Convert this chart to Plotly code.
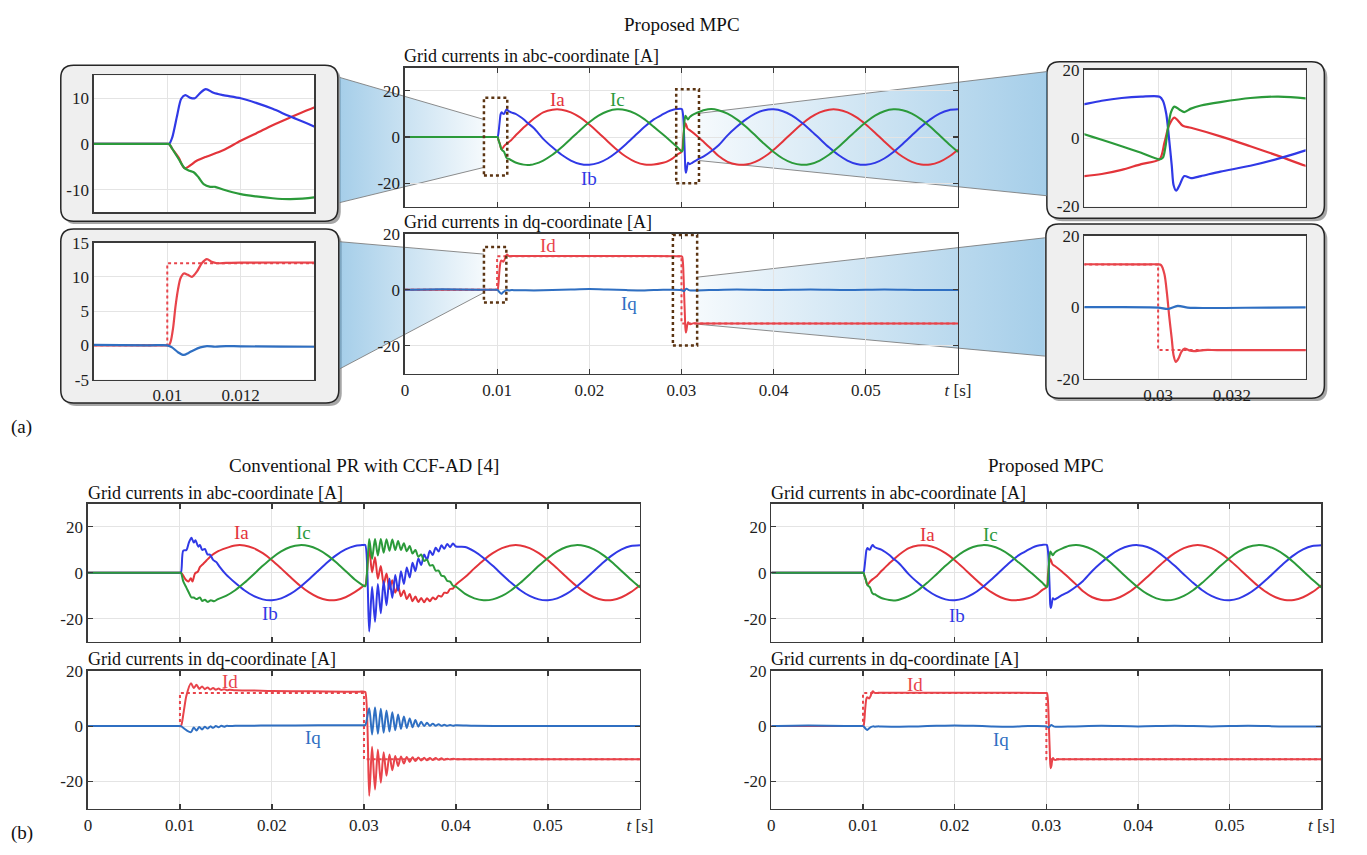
import plotly.graph_objects as go

W, H = 1367, 855
FONT = "Liberation Serif"

# ---------------- data ----------------
# shared 1 ms samples of the steady sinusoids
t_mid = [0.015, 0.016, 0.017, 0.018, 0.019, 0.020, 0.021, 0.022, 0.023, 0.024, 0.025, 0.026, 0.027]
ia_mid = [10.69, 11.85, 11.85, 10.69, 8.49, 5.45, 1.88, -1.88, -5.45, -8.49, -10.69, -11.85, -11.85]
ib_mid = [-0.75, -4.42, -7.65, -10.13, -11.62, -11.98, -11.16, -9.25, -6.43, -2.98, 0.75, 4.42, 7.65]
ic_mid = [-10.13, -7.65, -4.42, -0.75, 2.98, 6.43, 9.25, 11.16, 11.98, 11.62, 10.13, 7.65, 4.42]

t_tail = [0.035, 0.036, 0.037, 0.038, 0.039, 0.040, 0.041, 0.042, 0.043, 0.044, 0.045, 0.046, 0.047,
          0.048, 0.049, 0.050, 0.051, 0.052, 0.053, 0.054, 0.055, 0.056, 0.057, 0.058, 0.059, 0.060]
ia_tail = [-10.69, -11.85, -11.85, -10.69, -8.49, -5.45, -1.88, 1.88, 5.45, 8.49, 10.69, 11.85, 11.85,
           10.69, 8.49, 5.45, 1.88, -1.88, -5.45, -8.49, -10.69, -11.85, -11.85, -10.69, -8.49, -5.45]
ib_tail = [0.75, 4.42, 7.65, 10.13, 11.62, 11.98, 11.16, 9.25, 6.43, 2.98, -0.75, -4.42, -7.65,
           -10.13, -11.62, -11.98, -11.16, -9.25, -6.43, -2.98, 0.75, 4.42, 7.65, 10.13, 11.62, 11.98]
ic_tail = [10.13, 7.65, 4.42, 0.75, -2.98, -6.43, -9.25, -11.16, -11.98, -11.62, -10.13, -7.65, -4.42,
           -0.75, 2.98, 6.43, 9.25, 11.16, 11.98, 11.62, 10.13, 7.65, 4.42, 0.75, -2.98, -6.43]

# Proposed MPC, abc
mpc_ia_t = [0, 0.005, 0.0095, 0.01, 0.01005, 0.01013, 0.01031, 0.01047, 0.0108, 0.01106, 0.01152, 0.012, 0.01242,
            0.01287, 0.01332, 0.014] + t_mid + [0.028, 0.02847, 0.02901, 0.02954, 0.03004, 0.03017, 0.0303,
            0.03044, 0.03067, 0.03089, 0.03169, 0.0325, 0.03326, 0.034] + t_tail
mpc_ia_v = [0, 0, 0, 0, 0, -1.0, -3.0, -5.3, -3.7, -2.8, -1.4, 0.7, 2.3, 4.1, 5.7, 8.0] + ia_mid + \
           [-11.1, -10.5, -9.3, -7.6, -6.2, -1.4, 3.8, 6.0, 3.6, 3.0, 0.5, -2.4, -5.2, -8.1] + ia_tail

mpc_ib_t = [0, 0.005, 0.0095, 0.01, 0.01005, 0.01013, 0.01027, 0.01038, 0.01049, 0.01063, 0.01075, 0.0109, 0.01105,
            0.01126, 0.01152, 0.012, 0.01242, 0.01287, 0.01332, 0.014] + t_mid + [0.028, 0.02847, 0.02901,
            0.02954, 0.03004, 0.03013, 0.03022, 0.03029, 0.03037, 0.03042, 0.03049, 0.03058, 0.03071, 0.03089,
            0.03116, 0.03169, 0.0325, 0.03326, 0.034] + t_tail
mpc_ib_v = [0, 0, 0, 0, 0, 1.3, 6.3, 9.9, 10.7, 10.1, 10.0, 11.2, 12.0, 11.2, 10.7, 10.0, 9.0, 7.7, 6.1, 3.8] + \
           ib_mid + [9.9, 10.9, 11.7, 12.1, 12.1, 10.9, 7.1, 0.5, -8.1, -13.8, -15.4, -13.8, -11.1, -11.7, -11.1,
                     -9.8, -8.1, -6.0, -3.6] + ib_tail

mpc_ic_t = [0, 0.005, 0.0095, 0.01, 0.01005, 0.01013, 0.01031, 0.01047, 0.01058, 0.01072, 0.01085, 0.01099, 0.01117,
            0.0113, 0.01152, 0.012, 0.01242, 0.01287, 0.01332, 0.01368, 0.014] + t_mid + [0.028, 0.02847,
            0.02901, 0.02954, 0.03004, 0.03013, 0.0302, 0.03026, 0.03035, 0.03044, 0.03058, 0.03071, 0.03089,
            0.03116, 0.03169, 0.0325, 0.03326, 0.034] + t_tail
mpc_ic_v = [0, 0, 0, 0, 0, -1.0, -3.3, -5.3, -5.8, -6.2, -7.3, -8.8, -9.4, -9.4, -10.0, -11.0, -11.5, -11.9, -12.1,
            -12.0, -11.7] + ic_mid + [1.1, -0.5, -2.4, -4.3, -6.2, -5.7, -2.4, 2.4, 7.6, 9.2, 8.3, 7.6, 8.6, 9.5,
            10.5, 11.7, 12.1, 11.6] + ic_tail

# Proposed MPC, dq
mpc_id_t = [0, 0.005, 0.0095, 0.01, 0.01004, 0.01009, 0.01016, 0.01022, 0.01029, 0.01036, 0.01045, 0.01056, 0.01067,
            0.01081, 0.01094, 0.01108, 0.01121, 0.01135, 0.0116, 0.012, 0.014, 0.02, 0.025, 0.0295, 0.03, 0.03008,
            0.03017, 0.03024, 0.0303, 0.03037, 0.03042, 0.03048, 0.03055, 0.03063, 0.03072, 0.03084, 0.03097,
            0.03124, 0.0316, 0.034, 0.04, 0.05, 0.06]
mpc_id_v = [0, 0, 0, 0, 0, 0.5, 2.6, 5.5, 8.1, 9.8, 10.5, 10.3, 10.0, 10.8, 12.0, 12.6, 12.2, 12.0, 12.05, 12.1,
            12.1, 12.1, 12.1, 12.0, 12.0, 11.8, 9.3, 3.8, -2.5, -8.9, -13.5, -15.3, -14.4, -12.5, -11.6, -12.1,
            -12.3, -12.0, -12.0, -12.0, -12.0, -12.0, -12.0]
mpc_iq_t = [0, 0.004, 0.0095, 0.01, 0.01013, 0.01029, 0.01045, 0.01058, 0.01072, 0.0109, 0.01108, 0.0113, 0.0116,
            0.012, 0.014, 0.016, 0.018, 0.02, 0.022, 0.024, 0.026, 0.028, 0.03, 0.03026, 0.03053, 0.0308,
            0.031, 0.033, 0.036, 0.04, 0.044, 0.048, 0.052, 0.056, 0.06]
mpc_iq_v = [0.0, 0.2, 0.0, 0.0, -0.3, -1.0, -1.4, -1.1, -0.7, -0.3, -0.1, -0.2, -0.1, -0.15, -0.2, -0.1, 0.1,
            0.25, 0.1, -0.1, -0.2, 0.0, -0.1, -0.5, 0.4, -0.1, -0.2, -0.1, 0.1, -0.1, 0.1, -0.1, 0.1, -0.1, -0.1]

ref_t = [0, 0.01, 0.01, 0.03, 0.03, 0.06]
ref_v = [0, 0, 12, 12, -12, -12]

# Conventional PR with CCF-AD, ringing after the reversal
t_osc = [0.03057, 0.03088, 0.03120, 0.03151, 0.03183, 0.03214, 0.03245, 0.03277, 0.03308, 0.03340, 0.03371,
         0.03402, 0.03434, 0.03465, 0.03497, 0.03528, 0.03559, 0.03591, 0.03622, 0.03654, 0.03685, 0.03716,
         0.03748, 0.03779, 0.03811, 0.03842, 0.03873, 0.03905, 0.03936, 0.03968, 0.03999]
ia_osc = [10.9, 0.1, 6.7, -2.6, 2.9, -5.0, -0.4, -7.0, -3.3, -8.7, -5.7, -10.3, -7.7, -11.5, -9.3, -12.4,
          -10.4, -12.8, -11.0, -12.9, -11.1, -12.4, -10.8, -11.6, -10.0, -10.4, -8.7, -8.8, -7.1, -6.9, -5.2]
ib_osc = [-25.6, -6.1, -21.4, -4.9, -17.6, -3.7, -14.2, -2.5, -11.0, -1.0, -7.9, 0.6, -4.9, 2.3, -2.1, 4.3,
          0.7, 6.2, 3.3, 7.9, 5.6, 9.5, 7.7, 10.9, 9.2, 11.9, 10.4, 12.5, 11.1, 12.7, 11.4]
ic_osc = [14.7, 6.0, 14.7, 7.5, 14.7, 8.7, 14.6, 9.5, 14.4, 9.9, 13.8, 9.9, 12.8, 9.3, 11.6, 8.3, 9.9, 6.9,
          7.9, 5.1, 5.7, 3.1, 3.3, 0.9, 0.9, -1.3, -1.6, -3.6, -3.9, -5.7, -6.1]
id_osc = [-25.3, -7.5, -23.0, -8.5, -20.5, -9.5, -18.0, -10.3, -16.0, -10.8, -14.5, -11.0, -13.6, -11.2,
          -13.0, -11.3, -12.7, -11.4, -12.5, -11.5, -12.4, -11.6, -12.3, -11.6, -12.2, -11.7, -12.2, -11.8,
          -12.1, -11.8, -12.0]
iq_osc = [6.5, -3.0, 6.8, -2.8, 6.3, -2.4, 5.7, -2.0, 5.0, -1.5, 4.2, -1.0, 3.5, -0.7, 2.8, -0.4, 2.2, -0.2,
          1.6, 0.0, 1.2, 0.1, 0.9, 0.1, 0.7, 0.1, 0.5, 0.1, 0.4, 0.1, 0.3]

pr_ia_t = [0, 0.005, 0.0095, 0.0099, 0.0101, 0.01032, 0.01064, 0.01093, 0.01118, 0.01136, 0.01164, 0.01193,
           0.01218, 0.01254, 0.0129, 0.01343, 0.01397] + t_mid + [0.028, 0.029, 0.0298, 0.030, 0.03015] + \
          t_osc + t_tail[6:]
pr_ia_v = [0, 0, 0, 0, 0, -1.0, -3.1, -3.8, -2.4, -3.8, -0.3, 0.4, 2.5, 3.9, 5.4, 7.5, 9.0] + ia_mid + \
          [-10.69, -8.49, -6.2, -5.6, -5.5] + ia_osc + ia_tail[6:]
pr_ib_t = [0, 0.005, 0.0095, 0.0099, 0.0101, 0.01036, 0.01071, 0.01097, 0.01125, 0.0115, 0.01168, 0.012,
           0.01217, 0.01242, 0.01271, 0.013, 0.01325, 0.0136, 0.01396, 0.01432] + t_mid + \
          [0.028, 0.029, 0.0298, 0.030, 0.03015] + t_osc + t_tail[6:]
pr_ib_v = [0, 0, 0, 0, 0, 9.6, 9.9, 13.1, 15.2, 13.1, 14.1, 11.3, 12.1, 9.9, 10.3, 7.9, 7.9, 5.6, 4.6, 2.5] + \
          ib_mid + [10.13, 11.62, 12.0, 12.1, 12.0] + ib_osc + ib_tail[6:]
pr_ic_t = [0, 0.005, 0.0095, 0.0099, 0.0101, 0.01036, 0.01071, 0.01097, 0.01125, 0.0115, 0.01179, 0.01217,
           0.01242, 0.01271, 0.013, 0.01336, 0.01371, 0.01414] + t_mid + [0.028, 0.029, 0.0298, 0.030,
           0.03015] + t_osc + t_tail[6:]
pr_ic_v = [0, 0, 0, 0, 0, -3.8, -6.6, -8.7, -10.8, -10.8, -11.5, -10.8, -12.3, -11.8, -12.7, -12.0, -12.4,
           -11.5] + ic_mid + [0.75, -2.98, -5.3, -5.8, -5.9] + ic_osc + ic_tail[6:]

pr_id_t = [0, 0.005, 0.0095, 0.0099, 0.0101, 0.0104, 0.0107, 0.0112, 0.0115, 0.0118, 0.0121, 0.0124, 0.0127,
           0.0130, 0.0133, 0.0136, 0.0139, 0.0142, 0.0145, 0.0148, 0.0151, 0.0154, 0.016, 0.018, 0.020, 0.024,
           0.028, 0.0295, 0.030, 0.03015] + t_osc + [0.042, 0.046, 0.050, 0.055, 0.060]
pr_id_v = [0, 0, 0, 0, 0, 5.0, 11.0, 15.5, 13.8, 15.0, 13.5, 14.4, 13.4, 14.0, 13.3, 13.8, 13.2, 13.6, 13.1,
           13.4, 13.0, 13.2, 13.0, 12.9, 12.7, 12.6, 12.5, 12.5, 12.5, 12.3] + id_osc + \
          [-12.0, -12.0, -12.0, -12.0, -12.0]
pr_iq_t = [0, 0.005, 0.0095, 0.0099, 0.0101, 0.0107, 0.0112, 0.0115, 0.0118, 0.0121, 0.0124, 0.0127, 0.0130,
           0.0133, 0.0136, 0.0139, 0.0142, 0.0145, 0.0148, 0.0151, 0.0154, 0.016, 0.020, 0.025, 0.0295, 0.030,
           0.03015] + t_osc + [0.042, 0.046, 0.050, 0.055, 0.060]
pr_iq_v = [0, 0, 0, 0, 0, -1.5, -2.2, -0.5, -1.6, -0.3, -1.2, -0.2, -0.9, -0.1, -0.6, 0.0, -0.4, 0.1, -0.2,
           0.1, 0.0, 0.1, 0.2, 0.3, 0.3, 0.3, 0.4] + iq_osc + [0.1, 0.0, 0.0, 0.0, 0.0]

main_xticks = [0, 0.01, 0.02, 0.03, 0.04, 0.05, 0.06]
main_xlabels = ["0", "0.01", "0.02", "0.03", "0.04", "0.05", "<i>t</i> [s]"]

# ---------------- styling ----------------
C_A, C_B, C_C = "#e3343a", "#3039e6", "#2b9a3a"
C_D, C_Q = "#e8444b", "#2f6fc2"
AXC = "#3a3a3a"
GRID = "#e4e4e4"

fig = go.Figure()


def fx(x):
    return x / W


def fy(y):
    return 1 - y / H


# panel geometry in pixels: (left, right, top, bottom)
panels = {
    2: dict(px=(406, 966, 60, 202), xr=[0, 0.06], yr=[-30, 30], yt=[-20, 0, 20], xt=main_xticks, xl=None, tk=True),
    3: dict(px=(406, 966, 230, 373), xr=[0, 0.06], yr=[-30, 20], yt=[-20, 0, 20], xt=main_xticks, xl=main_xlabels, tk=True),
    4: dict(px=(91, 314, 68, 208), xr=[0.008, 0.014], yr=[-15, 15], yt=[-10, 0, 10], xt=[0.01, 0.012], xl=None, tk=False),
    5: dict(px=(91, 314, 239, 379), xr=[0.008, 0.014], yr=[-5, 15], yt=[-5, 0, 5, 10, 15], xt=[0.01, 0.012], xl=["0.01", "0.012"], tk=False),
    6: dict(px=(1094, 1318, 62, 202), xr=[0.028, 0.034], yr=[-20, 20], yt=[-20, 0, 20], xt=[0.03, 0.032], xl=None, tk=False),
    7: dict(px=(1094, 1318, 232, 378), xr=[0.028, 0.034], yr=[-20, 20], yt=[-20, 0, 20], xt=[0.03, 0.032], xl=["0.03", "0.032"], tk=False),
    8: dict(px=(85, 644, 506, 647), xr=[0, 0.06], yr=[-30, 30], yt=[-20, 0, 20], xt=main_xticks, xl=None, tk=True),
    9: dict(px=(85, 644, 677, 818), xr=[0, 0.06], yr=[-30, 20], yt=[-20, 0, 20], xt=main_xticks, xl=main_xlabels, tk=True),
    10: dict(px=(777, 1334, 506, 647), xr=[0, 0.06], yr=[-30, 30], yt=[-20, 0, 20], xt=main_xticks, xl=None, tk=True),
    11: dict(px=(777, 1334, 677, 818), xr=[0, 0.06], yr=[-30, 20], yt=[-20, 0, 20], xt=main_xticks, xl=main_xlabels, tk=True),
}

layout_axes = {}
# overlay axis in pixel units (for the zoom "beams")
layout_axes["xaxis"] = dict(domain=[0, 1], range=[0, W], visible=False, fixedrange=True)
layout_axes["yaxis"] = dict(domain=[0, 1], range=[H, 0], visible=False, fixedrange=True)

tickfont = dict(family=FONT, size=17, color="#1e1e1e")
for n, p in panels.items():
    l, r, t, b = p["px"]
    common = dict(showgrid=True, gridcolor=GRID, gridwidth=1, zeroline=False, showline=True,
                  linecolor=AXC, linewidth=1.5, mirror="ticks" if p["tk"] else True,
                  ticks="inside" if p["tk"] else "", ticklen=5, tickwidth=1.2, tickcolor=AXC,
                  tickfont=tickfont, fixedrange=True)
    layout_axes[f"xaxis{n}"] = dict(domain=[fx(l), fx(r)], range=p["xr"], anchor=f"y{n}",
                                    tickvals=p["xt"], ticktext=p["xl"] if p["xl"] else None,
                                    showticklabels=p["xl"] is not None, **common)
    layout_axes[f"yaxis{n}"] = dict(domain=[fy(b), fy(t)], range=p["yr"], anchor=f"x{n}",
                                    tickvals=p["yt"], ticktext=[str(v) for v in p["yt"]], **common)

# ---- beams (zoom projections) on the overlay ----
beams = [
    (([340, 486, 486, 340], [70, 113, 162, 198]), "left"),
    (([703.7, 1056, 1056, 703.7], [106.7, 64, 191, 155]), "right"),
    (([340, 486, 486, 340], [238, 250.7, 290, 368]), "left"),
    (([701.7, 1054, 1054, 701.7], [274.3, 234, 355, 322.3]), "right"),
]
strong = "rgba(92,166,215,0.55)"
weak = "rgba(92,166,215,0.06)"
for (bx, by), side in beams:
    cs = [[0, strong], [1, weak]] if side == "left" else [[0, weak], [1, strong]]
    fig.add_trace(go.Scatter(x=bx + [bx[0]], y=by + [by[0]], mode="lines", fill="toself",
                             fillgradient=dict(type="horizontal", colorscale=cs),
                             line=dict(width=0), hoverinfo="skip", xaxis="x", yaxis="y"))
    for i0, i1 in ((0, 1), (3, 2)):
        fig.add_trace(go.Scatter(x=[bx[i0], bx[i1]], y=[by[i0], by[i1]], mode="lines",
                                 line=dict(color="rgba(120,120,120,0.85)", width=1),
                                 hoverinfo="skip", xaxis="x", yaxis="y"))


def line(t, v, color, n, width=2.0, dash=None):
    fig.add_trace(go.Scatter(x=t, y=v, mode="lines",
                             line=dict(color=color, width=width, dash=dash, shape="spline", smoothing=0.8),
                             hoverinfo="skip", xaxis=f"x{n}", yaxis=f"y{n}"))


for n in (2, 4, 6, 10):
    w = 2.2 if n in (4, 6) else 2.0
    line(mpc_ia_t, mpc_ia_v, C_A, n, w)
    line(mpc_ib_t, mpc_ib_v, C_B, n, w)
    line(mpc_ic_t, mpc_ic_v, C_C, n, w)
for n in (3, 5, 7, 11):
    w = 2.2 if n in (5, 7) else 2.0
    fig.add_trace(go.Scatter(x=ref_t, y=ref_v, mode="lines", line=dict(color=C_D, width=2, dash="dot"),
                             hoverinfo="skip", xaxis=f"x{n}", yaxis=f"y{n}"))
    line(mpc_id_t, mpc_id_v, C_D, n, w)
    line(mpc_iq_t, mpc_iq_v, C_Q, n, w)

line(pr_ia_t, pr_ia_v, C_A, 8)
line(pr_ib_t, pr_ib_v, C_B, 8)
line(pr_ic_t, pr_ic_v, C_C, 8)
fig.add_trace(go.Scatter(x=ref_t, y=ref_v, mode="lines", line=dict(color=C_D, width=2, dash="dot"),
                         hoverinfo="skip", xaxis="x9", yaxis="y9"))
line(pr_id_t, pr_id_v, C_D, 9)
line(pr_iq_t, pr_iq_v, C_Q, 9)

# ---------------- shapes ----------------
shapes = []


def rrect_path(x0, y0, x1, y1, r):
    pts = [("M", [(x0 + r, y0)]), ("L", [(x1 - r, y0)]), ("Q", [(x1, y0), (x1, y0 + r)]),
           ("L", [(x1, y1 - r)]), ("Q", [(x1, y1), (x1 - r, y1)]), ("L", [(x0 + r, y1)]),
           ("Q", [(x0, y1), (x0, y1 - r)]), ("L", [(x0, y0 + r)]), ("Q", [(x0, y0), (x0 + r, y0)])]
    s = ""
    for cmd, ps in pts:
        s += cmd + " " + " ".join(f"{fx(px):.5f},{fy(py):.5f}" for px, py in ps) + " "
    return s + "Z"


inset_boxes = [(57.5, 57.5, 338, 217), (57.5, 225, 339, 403), (1056, 54, 1337, 214), (1055, 220, 1337, 398)]
for x0, y0, x1, y1 in inset_boxes:
    shapes.append(dict(type="path", path=rrect_path(x0 + 3, y0 + 3, x1 + 3, y1 + 3, 13), xref="paper",
                       yref="paper", fillcolor="#a6a6a6", line=dict(width=0), layer="below"))
    shapes.append(dict(type="path", path=rrect_path(x0, y0, x1, y1, 13), xref="paper", yref="paper",
                       fillcolor="#efefef", line=dict(color="#262626", width=1.5), layer="below"))
for n, p in panels.items():
    l, r, t, b = p["px"]
    shapes.append(dict(type="rect", xref="paper", yref="paper", x0=fx(l), x1=fx(r), y0=fy(b), y1=fy(t),
                       fillcolor="white", line=dict(width=0), layer="below"))

zoom_frames = [(2, 0.00857, 0.0111, -16.6, 17.0), (2, 0.02943, 0.0319, -19.9, 20.7),
               (3, 0.00857, 0.0110, -4.5, 15.3), (3, 0.02907, 0.0317, -19.9, 19.6)]
for n, a0, a1, b0, b1 in zoom_frames:
    shapes.append(dict(type="rect", xref=f"x{n}", yref=f"y{n}", x0=a0, x1=a1, y0=b0, y1=b1,
                       line=dict(color="#5b3412", width=2.5, dash="dot"), fillcolor="rgba(0,0,0,0)",
                       layer="above"))

# ---------------- annotations ----------------
ann = []


def ptext(text, x, y, anchor="left", size=18, color="#111"):
    ann.append(dict(text=text, x=fx(x), y=fy(y), xref="paper", yref="paper", xanchor=anchor,
                    yanchor="middle", showarrow=False, font=dict(family=FONT, size=size, color=color)))


ptext("Proposed MPC", 687, 16, "center", 19)
ptext("Grid currents in abc-coordinate [A]", 403, 48)
ptext("Grid currents in dq-coordinate [A]", 403, 218)
ptext("(a)", 5, 428, size=19)
ptext("Conventional PR with CCF-AD [4]", 365, 467, "center", 19)
ptext("Proposed MPC", 1055, 467, "center", 19)
ptext("Grid currents in abc-coordinate [A]", 83, 495)
ptext("Grid currents in dq-coordinate [A]", 83, 665)
ptext("Grid currents in abc-coordinate [A]", 775, 495)
ptext("Grid currents in dq-coordinate [A]", 775, 665)
ptext("(b)", 5, 843, size=19)

trace_labels = [
    (2, "Ia", 0.0166, 16.2, C_A), (2, "Ic", 0.0231, 16.2, C_C), (2, "Ib", 0.0200, -18.0, C_B),
    (3, "Id", 0.0155, 15.7, C_D), (3, "Iq", 0.0243, -5.0, C_Q),
    (8, "Ia", 0.0167, 17.3, C_A), (8, "Ic", 0.0234, 17.3, C_C), (8, "Ib", 0.0198, -17.8, C_B),
    (9, "Id", 0.0154, 16.0, C_D), (9, "Iq", 0.0245, -4.3, C_Q),
    (10, "Ia", 0.0170, 16.6, C_A), (10, "Ic", 0.0239, 16.6, C_C), (10, "Ib", 0.0203, -18.6, C_B),
    (11, "Id", 0.0157, 15.2, C_D), (11, "Iq", 0.0250, -4.7, C_Q),
]
for n, txt, x, y, col in trace_labels:
    ann.append(dict(text=txt, x=x, y=y, xref=f"x{n}", yref=f"y{n}", showarrow=False,
                    font=dict(family=FONT, size=19, color=col)))

fig.update_layout(
    width=W, height=H, margin=dict(l=0, r=0, t=0, b=0),
    paper_bgcolor="white", plot_bgcolor="rgba(0,0,0,0)",
    showlegend=False, hovermode=False,
    font=dict(family=FONT, size=17, color="#222"),
    shapes=shapes, annotations=ann,
    **layout_axes,
)

fig.write_html("out.html", config={"displayModeBar": False, "staticPlot": True},
               post_script="document.body.style.margin='0px';document.body.style.overflow='hidden';")
